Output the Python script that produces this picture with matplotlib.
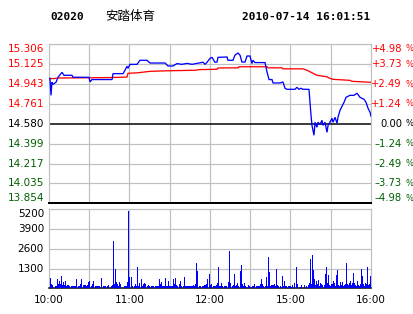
import matplotlib
matplotlib.use("Agg")
import matplotlib.pyplot as plt
from matplotlib import transforms

# ---------------- data ----------------
code = "02020"
name = "安踏体育"
stamp = "2010-07-14 16:01:51"
prev_close = 14.580

price_levels = [15.306, 15.125, 14.943, 14.761, 14.580, 14.399, 14.217, 14.035, 13.854]
price_labels = ["15.306", "15.125", "14.943", "14.761", "14.580", "14.399", "14.217", "14.035", "13.854"]
pct_labels = ["+4.98", "+3.73", "+2.49", "+1.24", "0.00",
              "–1.24", "–2.49", "–3.73", "–4.98"]

time_ticks = [0, 60, 120, 180, 240]
time_labels = ["10:00", "11:00", "12:00", "15:00", "16:00"]
time_grid = [30, 60, 90, 120, 150, 180, 210]

vol_levels = [1300, 2600, 3900, 5200]
vol_labels = ["1300", "2600", "3900", "5200"]

# price line (minutes after 10:00 on the trading clock, price)
price_min = [0.7, 1.5, 2.2, 3.0, 5.2, 6.7, 9.7, 11.2, 17.1, 17.9, 29.8, 30.6, 32.0, 47.0, 47.7,
             55.2, 56.6, 58.1, 58.9, 60.4, 65.6, 67.8, 73.0, 75.3, 86.5, 88.7, 92.4, 95.4, 99.0,
             102.9, 106.6, 110.3, 114.8, 116.3, 117.8, 120.0, 121.5, 123.7, 125.2, 126.0, 132.7,
             133.4, 137.1, 138.6, 140.9, 142.4, 143.8, 146.1, 147.6, 149.8, 151.3, 152.0, 153.5,
             161.0, 162.5, 164.0, 166.2, 167.0, 172.2, 174.4, 175.9, 177.4, 183.3, 184.8, 186.3,
             187.8, 189.3, 193.8, 194.5, 195.3, 196.0, 197.5, 198.3, 199.7, 200.5, 202.0, 203.5,
             204.2, 205.7, 207.2, 208.0, 209.4, 210.9, 211.7, 213.2, 214.7, 215.4, 216.9, 218.4,
             219.9, 221.4, 224.3, 227.3, 229.6, 231.8, 234.8, 236.3, 237.8, 239.3, 240.0]
price = [14.996, 14.840, 14.959, 14.941, 14.959, 15.005, 15.050, 15.023, 15.023, 15.005, 15.005,
         14.962, 14.984, 14.984, 15.038, 15.038, 15.068, 15.105, 15.087, 15.123, 15.123, 15.160,
         15.160, 15.135, 15.135, 15.108, 15.108, 15.130, 15.123, 15.132, 15.123, 15.132, 15.142,
         15.123, 15.142, 15.178, 15.187, 15.142, 15.144, 15.187, 15.190, 15.160, 15.160, 15.206,
         15.227, 15.206, 15.144, 15.144, 15.199, 15.199, 15.130, 15.160, 15.139, 15.139, 15.053,
         14.984, 14.984, 14.953, 14.953, 14.962, 14.904, 14.895, 14.895, 14.913, 14.895, 14.904,
         14.895, 14.895, 14.779, 14.658, 14.566, 14.475, 14.594, 14.548, 14.594, 14.575, 14.612,
         14.566, 14.594, 14.502, 14.566, 14.594, 14.630, 14.594, 14.639, 14.585, 14.639, 14.703,
         14.740, 14.776, 14.822, 14.840, 14.840, 14.859, 14.822, 14.804, 14.776, 14.722, 14.685,
         14.649]

# average price line
avg_min = [0, 3.7, 6.7, 45.5, 58.1, 58.9, 66.3, 75.3, 87.9, 108.8, 112.5, 125.2, 126.0, 140.9,
           141.6, 162.5, 163.2, 173.7, 174.4, 189.3, 192.3, 196.8, 199.7, 207.2, 208.7, 211.7,
           224.3, 225.8, 240]
avg_price = [14.993, 14.993, 14.998, 15.002, 15.007, 15.041, 15.046, 15.059, 15.064, 15.069,
             15.075, 15.078, 15.090, 15.091, 15.101, 15.101, 15.091, 15.091, 15.082, 15.082,
             15.069, 15.041, 15.023, 15.009, 14.998, 14.986, 14.977, 14.968, 14.959]

# volume bars
vol_min = [0.7, 1.5, 2.2, 4.5, 5.2, 6.0, 6.7, 7.5, 8.2, 8.9, 9.7, 10.4, 11.2, 11.9, 12.7, 13.4,
           14.2, 14.9, 16.4, 17.1, 17.9, 18.6, 19.4, 20.1, 21.6, 22.4, 23.1, 23.8, 25.3, 26.1,
           26.8, 27.6, 28.3, 29.1, 29.8, 31.3, 32.0, 32.8, 34.3, 35.0, 35.8, 36.5, 37.3, 38.8,
           40.2, 41.0, 41.7, 43.2, 44.0, 46.2, 47.0, 47.7, 48.4, 49.2, 49.9, 50.7, 51.4, 52.2,
           52.9, 55.9, 56.6, 57.4, 58.1, 58.9, 59.6, 61.1, 61.9, 63.4, 64.1, 64.8, 65.6, 66.3,
           67.1, 68.6, 69.3, 70.1, 70.8, 71.5, 73.0, 73.8, 74.5, 76.0, 76.8, 77.5, 79.0, 79.7,
           80.5, 81.2, 82.0, 82.7, 83.5, 84.2, 85.0, 85.7, 86.5, 87.2, 87.9, 88.7, 89.4, 90.2,
           90.9, 91.7, 92.4, 93.2, 93.9, 94.7, 95.4, 96.9, 97.6, 98.4, 99.9, 100.6, 101.4, 102.1,
           102.9, 103.6, 104.3, 105.1, 105.8, 106.6, 107.3, 108.1, 108.8, 109.6, 110.3, 111.8,
           112.5, 114.0, 114.8, 115.5, 116.3, 117.0, 117.8, 119.2, 120.0, 120.7, 122.2, 123.0,
           123.7, 124.5, 125.2, 126.0, 126.7, 127.4, 128.2, 128.9, 130.4, 131.2, 131.9, 133.4,
           134.2, 134.9, 136.4, 137.1, 137.9, 138.6, 139.4, 140.1, 140.9, 142.4, 143.1, 143.8,
           144.6, 145.3, 146.1, 146.8, 148.3, 149.1, 150.6, 151.3, 152.0, 152.8, 154.3, 155.0,
           155.8, 156.5, 157.3, 158.0, 158.7, 159.5, 161.0, 161.7, 162.5, 163.2, 164.0, 164.7,
           165.5, 166.2, 166.9, 167.7, 168.4, 169.2, 169.9, 170.7, 172.2, 172.9, 173.7, 174.4,
           175.1, 175.9, 176.6, 178.1, 178.9, 179.6, 180.4, 181.1, 182.6, 184.1, 184.8, 187.1,
           187.8, 190.1, 191.5, 193.0, 193.8, 194.5, 195.3, 196.0, 196.8, 197.5, 198.2, 199.0,
           199.7, 200.5, 201.2, 202.0, 202.7, 203.5, 205.0, 205.7, 206.4, 207.2, 207.9, 208.7,
           209.4, 210.2, 210.9, 211.7, 212.4, 213.2, 213.9, 214.6, 215.4, 216.1, 216.9, 217.6,
           218.4, 219.1, 219.9, 220.6, 221.4, 222.1, 222.8, 223.6, 224.3, 225.1, 225.8, 226.6,
           227.3, 228.1, 228.8, 229.6, 230.3, 231.0, 231.8, 232.5, 233.3, 234.0, 234.8, 235.5,
           236.3, 237.0, 237.7, 238.5, 239.2, 240.0]
vol = [658, 283, 220, 150, 150, 612, 283, 480, 283, 810, 220, 395, 220, 480, 150, 220,
       220, 150, 150, 150, 150, 150, 150, 612, 150, 150, 283, 612, 220, 220,
       220, 150, 220, 440, 480, 150, 283, 480, 150, 150, 150, 150, 150, 680,
       150, 150, 150, 150, 220, 150, 220, 3130, 283, 1270, 395, 283, 150, 417,
       283, 150, 150, 150, 395, 5090, 740, 740, 150, 150, 283, 150, 1400, 150,
       375, 612, 150, 283, 350, 283, 150, 220, 150, 150, 150, 150, 150, 150,
       150, 150, 612, 283, 417, 150, 150, 150, 680, 150, 150, 480, 150, 150,
       150, 150, 612, 283, 680, 220, 150, 283, 480, 150, 150, 740, 150, 150,
       150, 150, 150, 150, 150, 150, 220, 150, 283, 1665, 1140, 150,
       150, 150, 150, 220, 220, 283, 612, 940, 220, 283, 150, 150,
       150, 220, 350, 1400, 150, 150, 350, 150, 150, 150, 150, 417,
       2455, 350, 150, 220, 940, 150, 220, 350, 150, 1140, 1535, 283,
       150, 350, 150, 85, 220, 150, 85, 150, 150, 283, 150, 150,
       150, 150, 283, 612, 283, 150, 150, 740, 150, 2060, 1072, 150,
       220, 220, 220, 283, 150, 1270, 220, 150, 150, 85, 810, 150,
       480, 150, 150, 150, 150, 150, 85, 220, 350, 1400, 283, 85,
       220, 220, 150, 220, 350, 1930, 283, 2190, 1205, 612, 220, 480,
       283, 550, 150, 350, 283, 220, 220, 940, 1400, 350, 875, 220,
       150, 283, 283, 480, 350, 150, 875, 1205, 220, 150, 417, 220,
       417, 150, 220, 283, 1665, 283, 220, 350, 480, 220, 350, 1000,
       350, 220, 150, 480, 220, 150, 283, 1270, 810, 283, 150, 350,
       283, 1400, 220, 283, 810, 480]

# ---------------- styling ----------------
RED = "#FF0000"
GREEN = "#006000"
BLUE = "#0000FF"
GRID = "#C0C0C0"
W, H = 414, 314
LW1 = 72.0 / 100.0  # one pixel in points


def fx(px):
    return px / W


def fy(py):
    return 1 - py / H


fig = plt.figure(figsize=(W / 100, H / 100), dpi=100)
fig.patch.set_facecolor("white")

L, R = 49, 371
ax = fig.add_axes([fx(L), fy(203.3), fx(R) - fx(L), fy(44.3) - fy(203.3)])
axv = fig.add_axes([fx(L), fy(288.3), fx(R) - fx(L), fy(209.3) - fy(288.3)])

lab_font = dict(family="DejaVu Sans", fontsize=7.5)
pct_font = dict(family="DejaVu Sans", fontsize=7.2)
sign_font = dict(family="DejaVu Sans", fontsize=6.0)

# ---- price panel ----
ax.set_xlim(0, 240)
ax.set_ylim(min(price_levels), max(price_levels))
ax.set_xticks([])
ax.set_yticks([])
for t in time_grid:
    ax.axvline(t, color=GRID, lw=LW1 * 1.2, zorder=1)
for lv in price_levels:
    if lv == prev_close:
        ax.axhline(lv, color="black", lw=LW1 * 1.5, zorder=2)
    else:
        ax.axhline(lv, color=GRID, lw=LW1 * 1.2, zorder=1)
for side in ["left", "top", "right"]:
    ax.spines[side].set_color(GRID)
    ax.spines[side].set_linewidth(LW1 * 1.2)
ax.spines["bottom"].set_color("black")
ax.spines["bottom"].set_linewidth(LW1 * 2)

ax.plot(avg_min, avg_price, color=RED, lw=LW1 * 1.3, zorder=3, solid_joinstyle="miter")
ax.plot(price_min, price, color=BLUE, lw=LW1 * 1.3, zorder=4, solid_joinstyle="miter")

tl = transforms.blended_transform_factory(ax.transAxes, ax.transData)
tr = transforms.blended_transform_factory(fig.transFigure, ax.transData)
n = len(price_levels)
for i, (lv, pl, cl) in enumerate(zip(price_levels, price_labels, pct_labels)):
    if lv > prev_close:
        col = RED
    elif lv < prev_close:
        col = GREEN
    else:
        col = "black"
    va = "top" if i == 0 else ("bottom" if i == n - 1 else "center")
    ax.text(-5.0 / (R - L), lv, pl, transform=tl, ha="right", va=va, color=col, **lab_font)
    ax.text(402.0 / W, lv, cl, transform=tr, ha="right", va=va, color=col, **pct_font)
    ax.text(413.5 / W, lv, "%", transform=tr, ha="right", va=va, color=col, **sign_font)

# ---- volume panel ----
axv.set_xlim(0, 240)
axv.set_ylim(0, max(vol_levels))
axv.set_yticks([])
for t in time_grid:
    axv.axvline(t, color=GRID, lw=LW1 * 1.2, zorder=1)
for lv in vol_levels[:-1]:
    axv.axhline(lv, color=GRID, lw=LW1 * 1.2, zorder=1)
for side in ["left", "top", "right"]:
    axv.spines[side].set_color(GRID)
    axv.spines[side].set_linewidth(LW1 * 1.2)
axv.spines["bottom"].set_color("black")
axv.spines["bottom"].set_linewidth(LW1 * 1.5)
axv.vlines(vol_min, 0, vol, color=BLUE, lw=LW1 * 1.0, zorder=3, antialiased=False)

tlv = transforms.blended_transform_factory(axv.transAxes, axv.transData)
for lv, lb in zip(vol_levels, vol_labels):
    va = "top" if lv == max(vol_levels) else "center"
    axv.text(-5.0 / (R - L), lv, lb, transform=tlv, ha="right", va=va, color="black", **lab_font)

axv.set_xticks(time_ticks)
axv.set_xticklabels(time_labels, **lab_font)
axv.tick_params(axis="x", length=0, pad=5)

# ---- heading ----
mono = dict(family="DejaVu Sans Mono", fontweight="bold", fontsize=8)
fig.text(fx(50), fy(17), code, ha="left", va="center", **mono)
fig.text(fx(105), fy(16.5), name, ha="left", va="center",
         family=["Noto Sans CJK SC", "DejaVu Sans"], fontsize=9)
fig.text(fx(370), fy(17), stamp, ha="right", va="center", **mono)

fig.savefig("out.png", dpi=100, facecolor="white")
